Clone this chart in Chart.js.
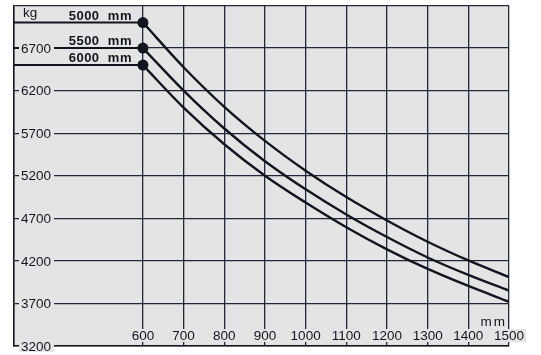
<!DOCTYPE html>
<html>
<head>
<meta charset="utf-8">
<script src="https://cdn.jsdelivr.net/npm/chart.js@4.4.1/dist/chart.umd.min.js"></script>
<style>
  html, body { margin: 0; padding: 0; background: #fff; }
  #wrap { width: 541px; height: 355px; }
</style>
</head>
<body>
<div id="wrap"><canvas id="chart"></canvas></div>
<script>
// load centre distance (mm) along the x axis
const loadCentres = [600, 700, 800, 900, 1000, 1100, 1200, 1300, 1400, 1500];
// lift heights, one curve each
const liftHeights = ['5000 mm', '5500 mm', '6000 mm'];
// capacity in kg
const capacity5000 = [7000, 6475, 6010, 5610, 5260, 4950, 4675, 4425, 4205, 4010];
const capacity5500 = [6700, 6200, 5755, 5370, 5040, 4745, 4480, 4240, 4035, 3850];
const capacity6000 = [6500, 6000, 5570, 5200, 4885, 4595, 4335, 4105, 3905, 3720];
const yTickLabels = [3200, 3700, 4200, 4700, 5200, 5700, 6200, 6700];
const yUnit = 'kg';
const xUnit = 'mm';

const X_MIN = 283, X_MAX = 1500;
const Y_MIN = 3200, Y_MAX = 7200;

const PLOT_BG = '#e4e4e4';
const INK = '#141420';
const GRID = '#24243a';
const FONT = '"Liberation Sans", Arial, sans-serif';

const allSeries = [capacity5000, capacity5500, capacity6000];

const datasets = [];
allSeries.forEach(vals => {
    // the curve itself, with a dot on its first point
    datasets.push({
        data: loadCentres.map((x, i) => ({ x: x, y: vals[i] })),
        borderColor: INK,
        backgroundColor: INK,
        borderWidth: 2.4,
        cubicInterpolationMode: 'monotone',
        pointRadius: ctx => ctx.dataIndex === 0 ? 5.5 : 0,
        pointHoverRadius: 0,
        pointBorderWidth: 0
    });
    // lead line from the left edge to the dot
    datasets.push({
        data: [{ x: X_MIN, y: vals[0] }, { x: loadCentres[0], y: vals[0] }],
        borderColor: INK,
        borderWidth: 2,
        pointRadius: 0
    });
});

// fill the plot area grey
const plotBackground = {
    id: 'plotBackground',
    beforeDraw(chart) {
        const { ctx, chartArea: a } = chart;
        ctx.save();
        ctx.fillStyle = PLOT_BG;
        ctx.fillRect(a.left, a.top, a.right - a.left, a.bottom - a.top);
        ctx.restore();
    }
};

// tick labels sit on the grid lines with a gap cut round them
const labelsOnGrid = {
    id: 'labelsOnGrid',
    afterDatasetsDraw(chart) {
        const { ctx, chartArea: a } = chart;
        const xs = chart.scales.x, ys = chart.scales.y;
        ctx.save();
        ctx.textBaseline = 'middle';
        ctx.font = '13.5px ' + FONT;

        // y labels
        yTickLabels.forEach(v => {
            const y = ys.getPixelForValue(v);
            const t = String(v);
            const w = ctx.measureText(t).width;
            ctx.fillStyle = PLOT_BG;
            ctx.fillRect(a.left + 5, y - 6, w + 5, 12);
            ctx.fillStyle = INK;
            ctx.textAlign = 'left';
            ctx.fillText(t, a.left + 7, y + 1);
        });
        ctx.textBaseline = 'alphabetic';
        ctx.fillText(yUnit, a.left + 9, a.top + 11);

        // x labels
        loadCentres.forEach(v => {
            const x = xs.getPixelForValue(v);
            const t = String(v);
            const w = ctx.measureText(t).width;
            ctx.fillStyle = PLOT_BG;
            ctx.fillRect(x - w / 2 - 2, a.bottom - 17, w + 4, 13);
            ctx.fillStyle = INK;
            ctx.textAlign = 'center';
            ctx.fillText(t, x, a.bottom - 6);
        });
        ctx.textAlign = 'right';
        ctx.letterSpacing = '2px';
        ctx.fillText(xUnit, a.right - 2, a.bottom - 20);
        ctx.letterSpacing = '0px';

        // lift height names above the lead lines
        ctx.font = 'bold 13px ' + FONT;
        ctx.letterSpacing = '0.5px';
        const x0 = xs.getPixelForValue(loadCentres[0]);
        allSeries.forEach((vals, i) => {
            const y = ys.getPixelForValue(vals[0]);
            ctx.fillText(liftHeights[i].replace(' ', '  '), x0 - 11, y - 3);
        });
        ctx.restore();
    }
};

new Chart(document.getElementById('chart'), {
    type: 'line',
    data: { datasets: datasets },
    options: {
        responsive: true,
        maintainAspectRatio: false,
        animation: false,
        events: [],
        layout: { padding: { left: 14, top: 5, right: 32, bottom: 9 } },
        plugins: { legend: { display: false }, tooltip: { enabled: false } },
        scales: {
            x: {
                type: 'linear',
                min: X_MIN,
                max: X_MAX,
                afterBuildTicks: scale => { scale.ticks = loadCentres.map(v => ({ value: v })); },
                ticks: { display: false },
                grid: { color: GRID, lineWidth: 1.3, drawTicks: false },
                border: { color: INK, width: 1.6 }
            },
            y: {
                min: Y_MIN,
                max: Y_MAX,
                ticks: { display: false, stepSize: 500 },
                grid: { color: GRID, lineWidth: 1.3, drawTicks: false },
                border: { color: INK, width: 1.6 }
            }
        }
    },
    plugins: [plotBackground, labelsOnGrid]
});
</script>
</body>
</html>
